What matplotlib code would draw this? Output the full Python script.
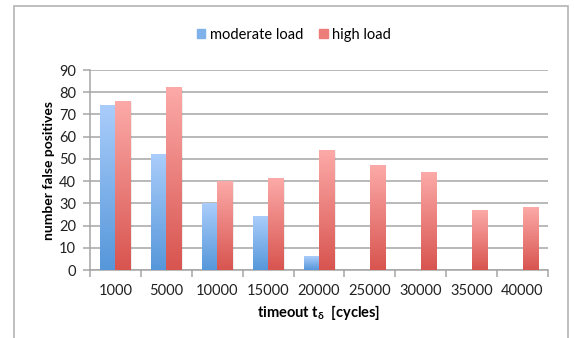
import numpy as np
import matplotlib.pyplot as plt
from matplotlib.colors import LinearSegmentedColormap
from matplotlib.patches import Rectangle

timeouts = ['1000', '5000', '10000', '15000', '20000', '25000', '30000', '35000', '40000']
moderate = [74, 52, 30, 24, 6, 0, 0, 0, 0]
high = [76, 82, 40, 41, 54, 47, 44, 27, 28]

plt.rcParams['font.family'] = ['Lato', 'DejaVu Sans']
plt.rcParams['mathtext.fontset'] = 'custom'
plt.rcParams['mathtext.rm'] = 'Lato'
plt.rcParams['mathtext.it'] = 'Lato:bold'
plt.rcParams['mathtext.bf'] = 'Lato:bold'

W, H = 574, 338
fig = plt.figure(figsize=(W / 100, H / 100), dpi=100)

# light frame round the whole chart
fig.add_artist(Rectangle((14 / W, -0.05), (568 - 14) / W, 1.05 - 6 / H,
                         transform=fig.transFigure, fill=False,
                         edgecolor='#b4b4b4', linewidth=1.2))

ax = fig.add_axes([90 / W, (H - 270) / H, 458 / W, 200 / H])

blue_map = LinearSegmentedColormap.from_list('blue', ['#5697da', '#aacdfb'])
red_map = LinearSegmentedColormap.from_list('red', ['#d8544f', '#fcaaa8'])

x = np.arange(len(timeouts))
w = 0.295
b1 = ax.bar(x - w / 2, moderate, w, color='none', label='moderate load')
b2 = ax.bar(x + w / 2, high, w, color='none', label='high load')

grad = np.linspace(0, 1, 256).reshape(-1, 1)
for bars, cmap in ((b1, blue_map), (b2, red_map)):
    for b in bars:
        h = b.get_height()
        if h <= 0:
            continue
        x0 = b.get_x()
        # soft shadow to the right of each bar
        ax.add_patch(Rectangle((x0 + 0.03, 0), b.get_width(), h - 0.4,
                               color='#000000', alpha=0.07, zorder=2, linewidth=0))
        ax.imshow(grad, extent=[x0, x0 + b.get_width(), 0, h], origin='lower',
                  aspect='auto', cmap=cmap, zorder=3)

ax.set_xlim(-0.5, len(timeouts) - 0.5)
ax.set_ylim(0, 90)
ax.set_yticks(range(0, 91, 10))
ax.yaxis.grid(True, color='#a6a6a6', linewidth=1.1)
ax.set_axisbelow(True)

ax.set_xticks(x)
ax.set_xticklabels(timeouts)
ax.set_xticks(np.arange(-0.5, len(timeouts)), minor=True)
ax.tick_params(axis='x', which='major', length=0, pad=10, labelsize=10.5)
ax.tick_params(axis='x', which='minor', length=5, color='#a6a6a6', width=1.1)
ax.tick_params(axis='y', length=5, color='#a6a6a6', width=1.1, labelsize=10.5, pad=5)
for lab in ax.get_yticklabels() + ax.get_xticklabels():
    lab.set_color('#222222')

for side in ('top', 'right'):
    ax.spines[side].set_visible(False)
for side in ('left', 'bottom'):
    ax.spines[side].set_color('#a6a6a6')
    ax.spines[side].set_linewidth(1.1)

ax.set_ylabel('number false positives', fontsize=10, fontweight='bold', labelpad=3)
ax.set_xlabel(r'timeout t$_{\delta}$  [cycles]', fontsize=10.5, fontweight='bold', labelpad=4)

handles = [Rectangle((0, 0), 1, 1, color='#7fb1ea'), Rectangle((0, 0), 1, 1, color='#ec7d79')]
fig.legend(handles, ['moderate load', 'high load'], loc='center',
           bbox_to_anchor=(294 / W, 1 - 35 / H), ncol=2, frameon=False,
           fontsize=10.5, handlelength=0.6, handleheight=0.6, handletextpad=0.3,
           columnspacing=1.1)

fig.savefig('out.png', dpi=100)
